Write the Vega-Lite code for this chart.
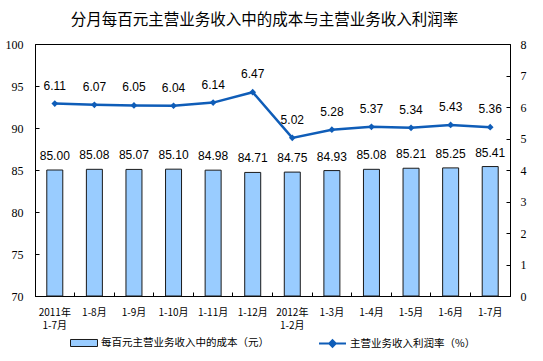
{
  "$schema": "https://vega.github.io/schema/vega-lite/v6.json",
  "width": 475,
  "height": 252,
  "autosize": {"type": "none"},
  "padding": {"left": 35, "top": 44, "right": 33, "bottom": 65},
  "background": "white",
  "title": {
    "text": "分月每百元主营业务收入中的成本与主营业务收入利润率",
    "font": "Noto Sans CJK SC",
    "fontSize": 15.5,
    "fontWeight": "normal",
    "color": "#000000",
    "anchor": "middle",
    "offset": 10,
    "dx": -8
  },
  "config": {
    "view": {"stroke": "#000000", "strokeWidth": 1},
    "axis": {"grid": false, "domainColor": "#000000", "tickColor": "#000000", "labelColor": "#000000"}
  },
  "data": {
    "values": [
      {"month": "2011年|1-7月", "cost": 85.00, "rate": 6.11},
      {"month": "1-8月", "cost": 85.08, "rate": 6.07},
      {"month": "1-9月", "cost": 85.07, "rate": 6.05},
      {"month": "1-10月", "cost": 85.10, "rate": 6.04},
      {"month": "1-11月", "cost": 84.98, "rate": 6.14},
      {"month": "1-12月", "cost": 84.71, "rate": 6.47},
      {"month": "2012年|1-2月", "cost": 84.75, "rate": 5.02},
      {"month": "1-3月", "cost": 84.93, "rate": 5.28},
      {"month": "1-4月", "cost": 85.08, "rate": 5.37},
      {"month": "1-5月", "cost": 85.21, "rate": 5.34},
      {"month": "1-6月", "cost": 85.25, "rate": 5.43},
      {"month": "1-7月", "cost": 85.41, "rate": 5.36}
    ]
  },
  "encoding": {
    "x": {
      "field": "month",
      "type": "nominal",
      "sort": null,
      "scale": {"paddingInner": 0, "paddingOuter": 0},
      "axis": {
        "title": null,
        "labelAngle": 0,
        "labelExpr": "split(datum.label, '|')",
        "labelFont": "Noto Sans CJK SC",
        "labelFontSize": 10,
        "labelLineHeight": 13.5,
        "labelPadding": 15,
        "labelOverlap": false,
        "tickSize": -4,
        "bandPosition": 0,
        "labelBaseline": "top"
      }
    }
  },
  "layer": [
    {
      "encoding": {
        "y": {
          "field": "cost",
          "type": "quantitative",
          "scale": {"domain": [70, 100], "zero": false, "nice": false},
          "axis": {
            "title": null,
            "orient": "left",
            "values": [70, 75, 80, 85, 90, 95, 100],
            "labelFont": "Liberation Serif",
            "labelFontSize": 12,
            "labelOverlap": false,
            "tickSize": -4,
            "labelPadding": 16
          }
        }
      },
      "layer": [
        {
          "mark": {"type": "bar", "size": 16, "stroke": "#1a1a1a", "strokeWidth": 1},
          "encoding": {
            "y2": {"datum": 70},
            "fill": {
              "datum": "每百元主营业务收入中的成本（元）",
              "type": "nominal",
              "scale": {"range": ["#99CCFF"]},
              "legend": {
                "title": null,
                "orient": "none",
                "legendX": 35,
                "legendY": 285,
                "padding": 0,
                "symbolSize": 729,
                "symbolType": "M-1,-0.26H1V0.26H-1Z",
                "symbolStrokeColor": "#1a1a1a",
                "symbolStrokeWidth": 1,
                "symbolFillColor": "#99CCFF",
                "labelFont": "Noto Sans CJK SC",
                "labelFontSize": 10.5,
                "labelColor": "#000000",
                "labelOffset": 3,
                "labelLimit": 400
              }
            }
          }
        },
        {
          "mark": {"type": "text", "dy": -14, "baseline": "middle", "font": "Liberation Sans", "fontSize": 12, "color": "#000000"},
          "encoding": {
            "text": {"field": "cost", "type": "quantitative", "format": ".2f"}
          }
        }
      ]
    },
    {
      "encoding": {
        "y": {
          "field": "rate",
          "type": "quantitative",
          "scale": {"domain": [0, 8], "nice": false},
          "axis": {
            "title": null,
            "orient": "right",
            "values": [0, 1, 2, 3, 4, 5, 6, 7, 8],
            "labelFont": "Liberation Serif",
            "labelFontSize": 12,
            "labelOverlap": false,
            "tickSize": -4,
            "labelPadding": 14
          }
        }
      },
      "layer": [
        {
          "mark": {"type": "line", "strokeWidth": 2.5, "point": {"filled": true, "shape": "diamond", "size": 45, "fill": "#0F5DB8", "stroke": "#0F5DB8", "strokeWidth": 0}},
          "encoding": {
            "stroke": {
              "datum": "主营业务收入利润率（%）",
              "type": "nominal",
              "scale": {"range": ["#0F5DB8"]},
              "legend": {
                "title": null,
                "orient": "none",
                "legendX": 283,
                "legendY": 285,
                "padding": 0,
                "symbolSize": 729,
                "symbolType": "M-1,0H1M0,-0.24L0.24,0L0,0.24L-0.24,0Z",
                "symbolStrokeColor": "#0F5DB8",
                "symbolFillColor": "#0F5DB8",
                "symbolStrokeWidth": 2,
                "labelFont": "Noto Sans CJK SC",
                "labelFontSize": 10.5,
                "labelColor": "#000000",
                "labelOffset": 3,
                "labelLimit": 400
              }
            }
          }
        },
        {
          "mark": {"type": "text", "dy": -18, "baseline": "middle", "font": "Liberation Sans", "fontSize": 12, "color": "#000000"},
          "encoding": {
            "text": {"field": "rate", "type": "quantitative", "format": ".2f"}
          }
        }
      ]
    }
  ],
  "resolve": {"scale": {"y": "independent"}}
}
